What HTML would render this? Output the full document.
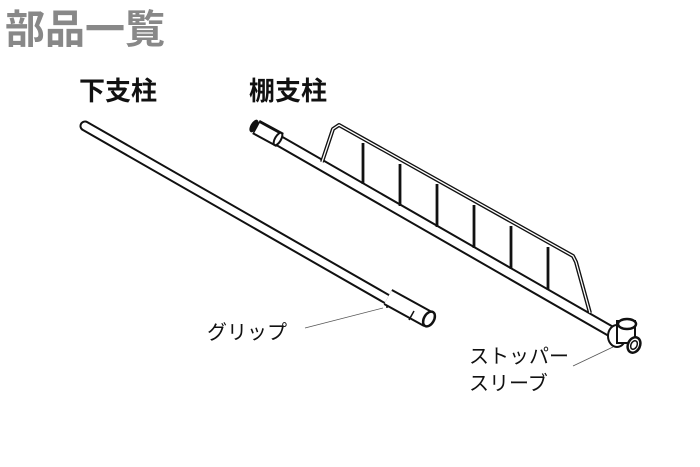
<!DOCTYPE html>
<html><head><meta charset="utf-8"><style>
html,body{margin:0;padding:0;background:#fff;width:700px;height:467px;overflow:hidden}
svg{display:block}
text{font-family:"Liberation Sans","Noto Sans CJK JP",sans-serif}
</style></head><body>
<svg width="700" height="467" viewBox="0 0 700 467" xmlns="http://www.w3.org/2000/svg">
<text x="5" y="43" font-size="40" font-weight="bold" fill="#888">部品一覧</text>
<text x="79" y="100" font-size="26" font-weight="bold" fill="#111">下支柱</text>
<text x="249" y="100" font-size="26" font-weight="bold" fill="#111">棚支柱</text>

<!-- left pole -->
<line x1="85" y1="126" x2="392" y2="302" stroke="#111" stroke-width="11" stroke-linecap="round"/>
<line x1="85" y1="126" x2="392" y2="302" stroke="#fff" stroke-width="7" stroke-linecap="round"/>
<!-- grip -->
<line x1="388" y1="297" x2="428" y2="319" stroke="#111" stroke-width="18" stroke-linecap="butt"/>
<line x1="388" y1="297" x2="428" y2="319" stroke="#fff" stroke-width="14" stroke-linecap="butt"/>
<line x1="414" y1="311" x2="409" y2="320" stroke="#111" stroke-width="1.5"/>
<ellipse cx="429" cy="319" rx="5" ry="8" transform="rotate(30 429 319)" fill="#fff" stroke="#111" stroke-width="2.5"/>
<circle cx="387" cy="307" r="1" fill="#111"/>
<line x1="305" y1="328" x2="383" y2="308" stroke="#555" stroke-width="0.8"/>
<text x="207" y="339" font-size="20" fill="#111">グリップ</text>

<!-- right pole -->
<line x1="262" y1="131" x2="612" y2="332" stroke="#111" stroke-width="12" stroke-linecap="round"/>
<line x1="262" y1="131" x2="612" y2="332" stroke="#fff" stroke-width="8" stroke-linecap="round"/>
<!-- end cap -->
<line x1="256" y1="127" x2="280" y2="140" stroke="#111" stroke-width="16"/>
<line x1="257" y1="128" x2="279" y2="140" stroke="#fff" stroke-width="11"/>
<ellipse cx="254" cy="126" rx="3.5" ry="7" transform="rotate(30 254 126)" fill="#111"/>
<ellipse cx="278" cy="139" rx="3" ry="7" transform="rotate(30 278 139)" fill="#fff" stroke="#111" stroke-width="2"/>
<!-- fence -->
<polyline points="322,162 333,129 339,125 573,256 576,262 590,313" fill="none" stroke="#111" stroke-width="4" stroke-linejoin="round"/>
<polyline points="322,162 333,129 339,125 573,256 576,262 590,313" fill="none" stroke="#fff" stroke-width="1.3" stroke-linejoin="round"/>
<g stroke="#111" stroke-width="2.8">
<line x1="363" y1="143" x2="363" y2="184"/>
<line x1="400" y1="164" x2="400" y2="206"/>
<line x1="437" y1="184" x2="437" y2="227"/>
<line x1="474" y1="205" x2="474" y2="248"/>
<line x1="511" y1="226" x2="511" y2="269"/>
<line x1="548" y1="247" x2="548" y2="290"/>
</g>
<!-- stopper -->
<ellipse cx="617" cy="336" rx="9" ry="11" fill="#fff" stroke="#111" stroke-width="2"/>
<rect x="617" y="321" width="18" height="22" fill="#fff" stroke="#111" stroke-width="2"/>
<ellipse cx="627" cy="324" rx="9" ry="5" fill="#fff" stroke="#111" stroke-width="2.5"/>
<ellipse cx="634" cy="345" rx="6" ry="8" transform="rotate(25 634 345)" fill="#fff" stroke="#111" stroke-width="2.5"/>
<ellipse cx="634" cy="345" rx="3" ry="4.5" transform="rotate(25 634 345)" fill="none" stroke="#111" stroke-width="1.5"/>
<line x1="573" y1="366" x2="613" y2="347" stroke="#555" stroke-width="0.8"/>
<text x="469" y="363" font-size="20" fill="#111">ストッパー</text>
<text x="469" y="390" font-size="20" fill="#111">スリーブ</text>
</svg>
</body></html>
